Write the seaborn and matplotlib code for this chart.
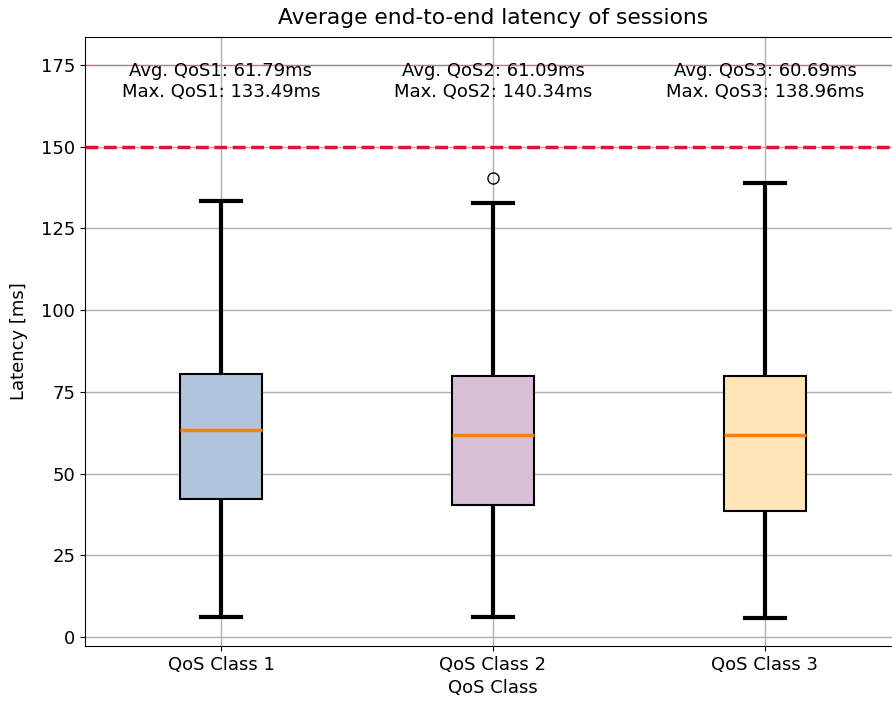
import pandas as pd
import seaborn as sns
import matplotlib.pyplot as plt

classes = ["QoS Class 1", "QoS Class 2", "QoS Class 3"]
# latency samples (whisker ends, quartiles, median, outlier)
qos1 = [6.1, 42.2, 63.3, 80.4, 133.49]
qos2 = [6.1, 40.4, 40.4, 61.8, 61.8, 79.8, 79.8, 132.8, 140.34]
qos3 = [5.8, 38.5, 61.8, 79.8, 138.96]
avg_lat = [61.79, 61.09, 60.69]
max_lat = [133.49, 140.34, 138.96]
colors = ["lightsteelblue", "thistle", "moccasin"]
threshold = 150
upper_ref = 175

df = pd.concat([
    pd.DataFrame({"cls": c, "lat": v})
    for c, v in zip(classes, [qos1, qos2, qos3])
])

fig = plt.figure(figsize=(8.92, 7.03), dpi=100)
ax = fig.add_axes([85 / 892, 57 / 703, 816 / 892, 609 / 703])

sns.boxplot(
    data=df, x="cls", y="lat", hue="cls", palette=colors, saturation=1,
    width=0.3, linecolor="black", linewidth=1.5, legend=False, ax=ax,
    whiskerprops={"linewidth": 3},
    capprops={"linewidth": 3},
    medianprops={"color": "#ff7f0e", "linewidth": 2.5},
    flierprops={"marker": "o", "markerfacecolor": "none",
                "markeredgecolor": "black", "markersize": 8},
)

ax.axhline(threshold, color="crimson", linestyle="--", linewidth=2.5, zorder=3)
ax.axhline(upper_ref, color="crimson", alpha=0.35, linewidth=1, zorder=3)

for i, (a, m) in enumerate(zip(avg_lat, max_lat)):
    ax.text(i, 170, f"Avg. QoS{i+1}: {a:.2f}ms\nMax. QoS{i+1}: {m:.2f}ms",
            ha="center", va="center", fontsize=13)

ax.set_xlim(-0.5, 2.5)
ax.set_ylim(-2.75, 183.5)
ax.set_yticks(range(0, 176, 25))
ax.grid(True, color="#b0b0b0", linewidth=1)
ax.set_axisbelow(True)
ax.tick_params(labelsize=13)
ax.set_xlabel("QoS Class", fontsize=13)
ax.set_ylabel("Latency [ms]", fontsize=13, labelpad=9)
ax.set_title("Average end-to-end latency of sessions", fontsize=15.7, pad=9)

fig.savefig("out.png", dpi=100)
